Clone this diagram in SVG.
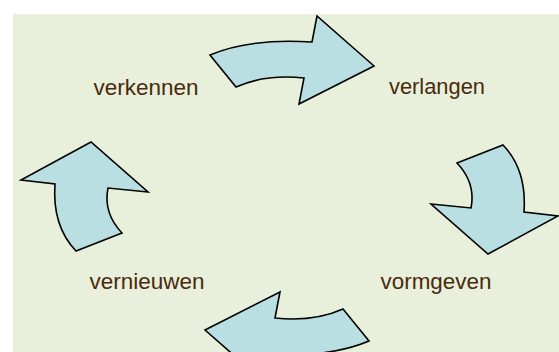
<svg xmlns="http://www.w3.org/2000/svg" width="559" height="352" viewBox="0 0 559 352">
  <style>
    .arrow { fill: #b9dfe3; stroke: #000; stroke-width: 1.6; stroke-linejoin: miter; }
    .label { font-family: "Liberation Sans", Arial, sans-serif; font-size: 22px; fill: #4a2a0c; text-anchor: middle; }
  </style>
  <rect x="0" y="0" width="559" height="352" fill="#ffffff"/>
  <rect x="13" y="14" width="546" height="338" fill="#e8f0dc"/>
  <g id="connectors">
    <g id="arrow-top">
      <path class="arrow" d="M210,55 Q250,38 312,42 L317,16 L374,66 L299,104 L304,78 Q265,74 236,87 Z"/>
    </g>
    <g id="arrow-right">
      <path class="arrow" d="M457,163 L503,145 Q527,170 524,212 L558,216 L488,254 L431,204 L471,208 Q476,183 457,163 Z"/>
    </g>
    <g id="arrow-bottom" transform="rotate(180 289.5 198)">
      <path class="arrow" d="M210,55 Q250,38 312,42 L317,16 L374,66 L299,104 L304,78 Q265,74 236,87 Z"/>
    </g>
    <g id="arrow-left" transform="rotate(180 289.5 198)">
      <path class="arrow" d="M457,163 L503,145 Q527,170 524,212 L558,216 L488,254 L431,204 L471,208 Q476,183 457,163 Z"/>
    </g>
  </g>
  <g id="node-verkennen">
    <text class="label" x="146" y="95" textLength="105" lengthAdjust="spacingAndGlyphs">verkennen</text>
  </g>
  <g id="node-verlangen">
    <text class="label" x="437" y="94" textLength="96" lengthAdjust="spacingAndGlyphs">verlangen</text>
  </g>
  <g id="node-vormgeven">
    <text class="label" x="436" y="289" textLength="111" lengthAdjust="spacingAndGlyphs">vormgeven</text>
  </g>
  <g id="node-vernieuwen">
    <text class="label" x="147" y="289" textLength="115" lengthAdjust="spacingAndGlyphs">vernieuwen</text>
  </g>
</svg>
